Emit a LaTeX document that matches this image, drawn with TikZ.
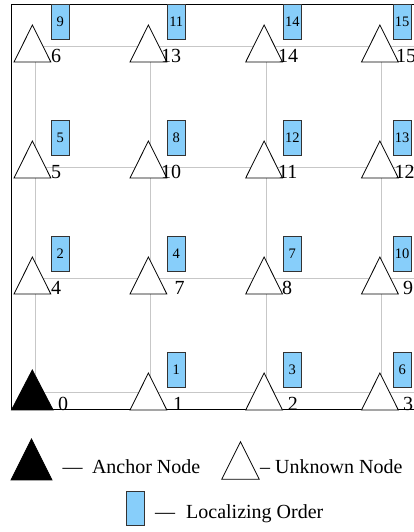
\documentclass[tikz,border=0pt]{standalone}
\usepackage{fontspec}
\setmainfont{Liberation Serif}
\usepackage{xcolor}
\usepackage{tikz}
\usetikzlibrary{positioning}
\definecolor{skyblue}{RGB}{135,206,250}

\begin{document}
\begin{tikzpicture}[x=1pt,y=1pt,
	gridline/.style={draw=black!22, line width=0.8pt},
	unknowntri/.style={draw, fill=white, line width=0.8pt, line join=miter},
	knowntri/.style={draw, fill=black, line width=0.8pt},
	ordbox/.style={draw=black!80, fill=skyblue, line width=0.6pt, minimum width=18.5pt, minimum height=35pt, inner sep=0pt, anchor=south west, font=\fontsize{14.5}{16}\selectfont},
	nlabel/.style={anchor=base west, inner sep=0pt, font=\fontsize{20}{24}\selectfont}]
	\useasboundingbox (0,0) rectangle (413,532);
	% grid
	\draw[gridline] (35,486) -- (416,486);
	\draw[gridline] (35,365) -- (416,365);
	\draw[gridline] (35,254) -- (416,254);
	\draw[gridline] (35,139.5) -- (416,139.5);
	\draw[gridline] (35,486) -- (35,139.5);
	\draw[gridline] (150,486) -- (150,139.5);
	\draw[gridline] (266,486) -- (266,139.5);
	\draw[gridline] (381,486) -- (381,139.5);
	% frame
	\draw[line width=1pt] (416,527) -- (11,527) -- (11,122) -- (416,122);
	% nodes, top row first
	\draw[unknowntri] (14,470) -- ++(18.4,37) -- ++(18.4,-37) -- cycle;
	\draw[unknowntri] (130,470) -- ++(18.4,37) -- ++(18.4,-37) -- cycle;
	\draw[unknowntri] (245.7,470) -- ++(18.4,37) -- ++(18.4,-37) -- cycle;
	\draw[unknowntri] (361.5,470) -- ++(18.4,37) -- ++(18.4,-37) -- cycle;
	\draw[unknowntri] (14,354) -- ++(18.4,37) -- ++(18.4,-37) -- cycle;
	\draw[unknowntri] (130,354) -- ++(18.4,37) -- ++(18.4,-37) -- cycle;
	\draw[unknowntri] (245.7,354) -- ++(18.4,37) -- ++(18.4,-37) -- cycle;
	\draw[unknowntri] (361.5,354) -- ++(18.4,37) -- ++(18.4,-37) -- cycle;
	\draw[unknowntri] (14,238) -- ++(18.4,37) -- ++(18.4,-37) -- cycle;
	\draw[unknowntri] (130,238) -- ++(18.4,37) -- ++(18.4,-37) -- cycle;
	\draw[unknowntri] (245.7,238) -- ++(18.4,37) -- ++(18.4,-37) -- cycle;
	\draw[unknowntri] (361.5,238) -- ++(18.4,37) -- ++(18.4,-37) -- cycle;
	\draw[knowntri] (11.5,122) -- ++(20.8,40) -- ++(20.8,-40) -- cycle;
	\draw[unknowntri] (130,122) -- ++(18.4,37) -- ++(18.4,-37) -- cycle;
	\draw[unknowntri] (245.7,122) -- ++(18.4,37) -- ++(18.4,-37) -- cycle;
	\draw[unknowntri] (361.5,122) -- ++(18.4,37) -- ++(18.4,-37) -- cycle;
	% localizing order
	\node[ordbox] (o9) at (50.7,492) {9};
	\node[ordbox] (o11) at (166.7,492) {11};
	\node[ordbox] (o14) at (282.7,492) {14};
	\node[ordbox] (o15) at (392.6,492) {15};
	\node[ordbox] (o5) at (50.7,376) {5};
	\node[ordbox] (o8) at (166.7,376) {8};
	\node[ordbox] (o12) at (282.7,376) {12};
	\node[ordbox] (o13) at (392.6,376) {13};
	\node[ordbox] (o2) at (50.7,260) {2};
	\node[ordbox] (o4) at (166.7,260) {4};
	\node[ordbox] (o7) at (282.7,260) {7};
	\node[ordbox] (o10) at (392.6,260) {10};
	\node[ordbox] (o1) at (166.7,144.5) {1};
	\node[ordbox] (o3) at (282.7,144.5) {3};
	\node[ordbox] (o6) at (392.6,144.5) {6};
	% node numbers
	\node[nlabel] (n6) at (51,469) {6};
	\node[nlabel] (n13) at (161,469) {13};
	\node[nlabel] (n14) at (278,469) {14};
	\node[nlabel] (n15) at (396,469) {15};
	\node[nlabel] (n5) at (51,353) {5};
	\node[nlabel] (n10) at (161,353) {10};
	\node[nlabel] (n11) at (278,353) {11};
	\node[nlabel] (n12) at (394.5,353) {12};
	\node[nlabel] (n4) at (51,237) {4};
	\node[nlabel] (n7) at (174.5,237) {7};
	\node[nlabel] (n8) at (282,237) {8};
	\node[nlabel] (n9) at (403,237) {9};
	\node[nlabel] (n0) at (57.8,121.5) {0};
	\node[nlabel] (n1) at (173,121.5) {1};
	\node[nlabel] (n2) at (287.7,121.5) {2};
	\node[nlabel] (n3) at (403,121.5) {3};
	% legend
	\draw[knowntri] (11,52) -- ++(20.5,41) -- ++(20.5,-41) -- cycle;
	\node[nlabel] (anchortext) at (62.3,58.7) {---\hspace{9.5pt}Anchor Node};
	\draw[unknowntri] (221.7,52.7) -- ++(18.8,37.6) -- ++(18.8,-37.6) -- cycle;
	\node[nlabel] (unknowntext) at (260,58.7) {-- Unknown Node};
	\node[ordbox, minimum width=18pt, minimum height=34.3pt] (ordkey) at (126,6) {};
	\node[nlabel] (ordtext) at (155,13.7) {---\hspace{11pt}Localizing Order};
\end{tikzpicture}
\end{document}
